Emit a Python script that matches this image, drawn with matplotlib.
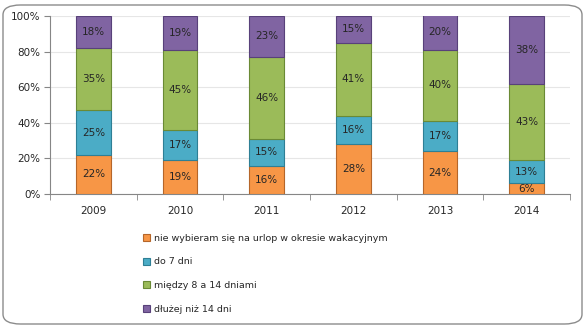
import matplotlib
matplotlib.use('Agg')
import matplotlib.pyplot as plt
from matplotlib.patches import FancyBboxPatch
import numpy as np

years = ['2009', '2010', '2011', '2012', '2013', '2014']
nie_wybieram = [22, 19, 16, 28, 24, 6]
do_7 = [25, 17, 15, 16, 17, 13]
miedzy_8_14 = [35, 45, 46, 41, 40, 43]
dluzej_14 = [18, 19, 23, 15, 20, 38]

series = [
    ('nie wybieram się na urlop w okresie wakacyjnym', nie_wybieram, '#F79646', '#B5662A'),
    ('do 7 dni', do_7, '#4BACC6', '#2E7F95'),
    ('między 8 a 14 dniami', miedzy_8_14, '#9BBB59', '#6A8A35'),
    ('dłużej niż 14 dni', dluzej_14, '#8064A2', '#58417A'),
]

plt.rcParams['font.family'] = ['DejaVu Sans']
fig = plt.figure(figsize=(5.85, 3.27), dpi=100)
W, H = 585, 327
ax = fig.add_axes([50 / W, 1 - 194 / H, 520 / W, 178 / H])

# ramka z zaokrąglonymi rogami
border = FancyBboxPatch((3 / W, 3 / H), 1 - 6 / W, 1 - 8 / H,
                        boxstyle='round,pad=0,rounding_size=0.03',
                        transform=fig.transFigure, fill=False,
                        edgecolor='#8C8C8C', linewidth=1.0)
fig.patches.append(border)

x = np.arange(len(years))
bottom = np.zeros(len(years))
handles = []
for label, vals, color, edge in series:
    vals = np.array(vals, dtype=float)
    b = ax.bar(x, vals, 0.40, bottom=bottom, color=color, edgecolor=edge,
               linewidth=0.8, label=label, zorder=3)
    handles.append(b)
    for xi, v, b0 in zip(x, vals, bottom):
        ax.text(xi, b0 + v / 2, f'{int(v)}%', ha='center', va='center',
                fontsize=7.5, color='#262626', zorder=4)
    bottom += vals

ax.set_xlim(-0.5, len(years) - 0.5)
ax.set_ylim(0, 100)
ax.set_yticks(range(0, 101, 20))
ax.set_yticklabels([f'{v}%' for v in range(0, 101, 20)], fontsize=7.5, color='#262626')
ax.set_xticks(x)
ax.set_xticklabels(years, fontsize=7.5, color='#262626')
ax.set_xticks(np.arange(-0.5, len(years)), minor=True)
ax.tick_params(axis='x', which='major', length=0, pad=9)
ax.tick_params(axis='x', which='minor', length=4, color='#868686', direction='out')
ax.tick_params(axis='y', length=4, color='#868686', pad=3)
ax.grid(axis='y', color='#E6E6E6', linewidth=0.8, zorder=0)
for s in ['top', 'right']:
    ax.spines[s].set_visible(False)
for s in ['left', 'bottom']:
    ax.spines[s].set_color('#868686')
    ax.spines[s].set_linewidth(0.8)

fig.legend(handles=handles, loc='upper left', bbox_to_anchor=(139 / W, 1 - 230 / H),
           frameon=False, fontsize=6.8, labelspacing=1.55, handlelength=0.75,
           handleheight=0.75, handletextpad=0.45, borderaxespad=0, labelcolor='#262626')

fig.savefig('out.png', dpi=100)
